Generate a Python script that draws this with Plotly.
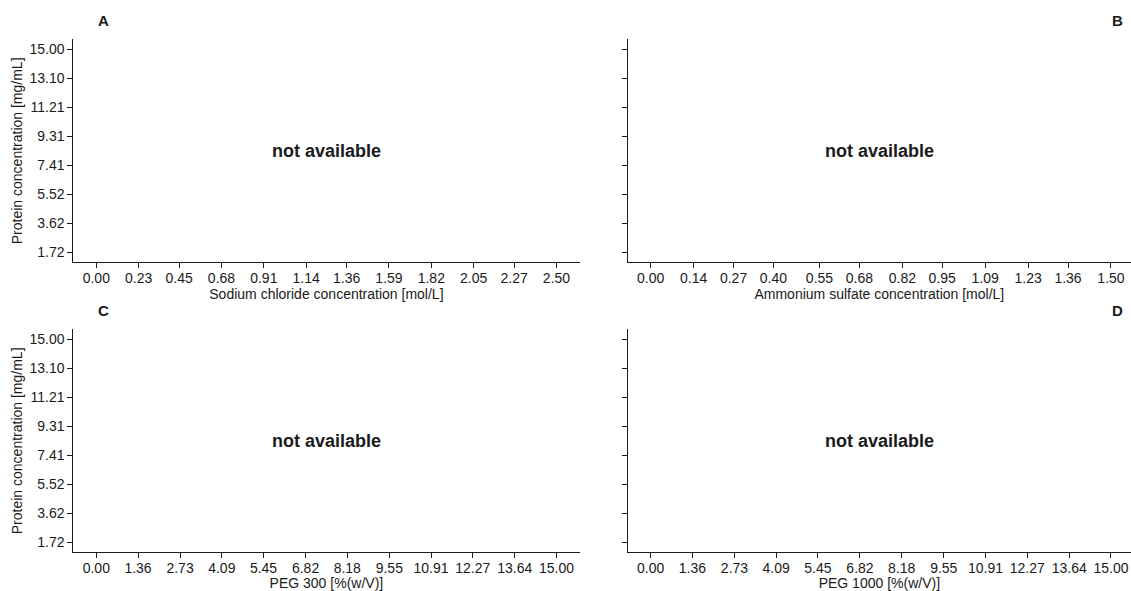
import plotly.graph_objects as go

W, H = 1131, 591

# ---- data / tick definitions ----
panel_letters = ["A", "B", "C", "D"]
x_titles = [
    "Sodium chloride concentration [mol/L]",
    "Ammonium sulfate concentration [mol/L]",
    "PEG 300 [%(w/V)]",
    "PEG 1000 [%(w/V)]",
]
x_nacl_ticks = [0.00, 0.23, 0.45, 0.68, 0.91, 1.14, 1.36, 1.59, 1.82, 2.05, 2.27, 2.50]
x_amsulf_ticks = [0.00, 0.14, 0.27, 0.40, 0.55, 0.68, 0.82, 0.95, 1.09, 1.23, 1.36, 1.50]
x_peg300_ticks = [0.00, 1.36, 2.73, 4.09, 5.45, 6.82, 8.18, 9.55, 10.91, 12.27, 13.64, 15.00]
x_peg1000_ticks = [0.00, 1.36, 2.73, 4.09, 5.45, 6.82, 8.18, 9.55, 10.91, 12.27, 13.64, 15.00]
y_ticks = [1.72, 3.62, 5.52, 7.41, 9.31, 11.21, 13.10, 15.00]
y_title = "Protein concentration [mg/mL]"
missing_text = "not available"

x_tick_sets = [x_nacl_ticks, x_amsulf_ticks, x_peg300_ticks, x_peg1000_ticks]

# ---- layout geometry (pixels) ----
col_x = [(73.3, 579.5), (627.7, 1131.0)]
row_y = [(39.4, 262.3), (329.4, 552.3)]  # top, bottom in pixels from top
letter_x = [103, 1117]
letter_y = [20, 310]

font_family = "Liberation Sans, Arial, Helvetica, sans-serif"
ink = "#1a1a1a"
fs = 14

fig = go.Figure()
layout = dict(
    width=W, height=H,
    margin=dict(l=0, r=0, t=0, b=0),
    paper_bgcolor="white", plot_bgcolor="white",
    showlegend=False,
    font=dict(family=font_family, color=ink, size=fs),
)
annotations = []

for i in range(4):
    r, c = divmod(i, 2)
    n = i + 1
    xa = "xaxis" if n == 1 else f"xaxis{n}"
    ya = "yaxis" if n == 1 else f"yaxis{n}"
    xr = "x" if n == 1 else f"x{n}"
    yr = "y" if n == 1 else f"y{n}"
    ticks = x_tick_sets[i]
    xmin, xmax = min(ticks), max(ticks)
    pad = 0.05 * (xmax - xmin)
    x0px, x1px = col_x[c]
    if c == 1:
        # right column: same 5% left pad, clipped by window edge on the right
        full_px = (x1px - x0px) + 3.0
        x_range = [xmin - pad, xmin - pad + (xmax - xmin) * 1.1 * (x1px - x0px) / full_px]
    else:
        x_range = [xmin - pad, xmax + pad]
    ymin, ymax = min(y_ticks), max(y_ticks)
    ypad = 0.05 * (ymax - ymin)
    ytop, ybot = row_y[r]

    fig.add_trace(go.Scatter(x=[], y=[], xaxis=xr, yaxis=yr, mode="markers"))

    layout[xa] = dict(
        domain=[x0px / W, x1px / W],
        anchor=yr,
        range=x_range,
        tickmode="array",
        tickvals=ticks,
        ticktext=[f"{t:.2f}" for t in ticks],
        ticks="outside", ticklen=5, tickwidth=1, tickcolor=ink,
        ticklabelstandoff=-2,
        showline=True, linecolor=ink, linewidth=1,
        showgrid=False, zeroline=False,
        tickfont=dict(size=fs, color=ink),
        title=dict(text=x_titles[i], font=dict(size=fs, color=ink), standoff=2),
        fixedrange=True,
    )
    layout[ya] = dict(
        domain=[(H - ybot) / H, (H - ytop) / H],
        anchor=xr,
        range=[ymin - ypad, ymax + ypad],
        tickmode="array",
        tickvals=y_ticks,
        ticktext=[f"{t:.2f}" for t in y_ticks],
        showticklabels=(c == 0),
        ticks="outside", ticklen=5, tickwidth=1, tickcolor=ink,
        showline=True, linecolor=ink, linewidth=1,
        showgrid=False, zeroline=False,
        tickfont=dict(size=fs, color=ink),
        title=dict(text=y_title if c == 0 else "", font=dict(size=fs, color=ink), standoff=3),
        fixedrange=True,
    )
    annotations.append(dict(
        text=f"<b>{missing_text}</b>", xref=f"{xr} domain", yref=f"{yr} domain",
        x=0.5, y=0.5, xanchor="center", yanchor="middle", showarrow=False,
        font=dict(size=18, color=ink, family=font_family),
    ))
    annotations.append(dict(
        text=f"<b>{panel_letters[i]}</b>", xref="paper", yref="paper",
        x=letter_x[c] / W, y=(H - letter_y[r]) / H, xanchor="center", yanchor="middle",
        showarrow=False, font=dict(size=15, color=ink, family=font_family),
    ))

layout["annotations"] = annotations
fig.update_layout(**layout)
fig.write_html("out.html")
